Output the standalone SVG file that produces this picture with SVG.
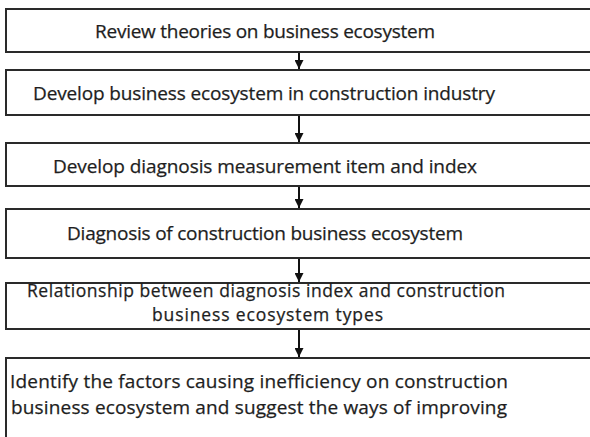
<svg xmlns="http://www.w3.org/2000/svg" width="590" height="437" viewBox="0 0 590 437">
  <defs>
    <marker id="head" viewBox="0 0 10 10" refX="10" refY="5" markerWidth="5.5" markerHeight="4.5" markerUnits="strokeWidth" orient="auto">
      <path d="M0,0 L10,5 L0,10 Z" fill="#111"/>
    </marker>
    <style>
      .box { fill: #fff; stroke: #2a2a2a; stroke-width: 2; }
      .lbl { font-family: "Open Sans", "Noto Sans", "DejaVu Sans", sans-serif; font-size: 19px; fill: #1e1e1e; stroke: #1e1e1e; stroke-width: 0.25; }
      .tight { font-size: 17.5px; }
      .edge { stroke: #111; stroke-width: 2; fill: none; marker-end: url(#head); }
    </style>
  </defs>
  <rect width="590" height="437" fill="#fff"/>

  <!-- downward flow between the steps -->
  <g id="connectors">
    <line class="edge" x1="299" y1="53" x2="299" y2="69"/>
    <line class="edge" x1="299" y1="116" x2="299" y2="142"/>
    <line class="edge" x1="299" y1="187" x2="299" y2="208"/>
    <line class="edge" x1="299" y1="259" x2="299" y2="282"/>
    <line class="edge" x1="299" y1="330" x2="299" y2="357"/>
  </g>

  <g id="step1">
    <rect class="box" x="6" y="9" width="590" height="43"/>
    <text class="lbl" x="95" y="38" textLength="340" lengthAdjust="spacing">Review theories on business ecosystem</text>
  </g>
  <g id="step2">
    <rect class="box" x="6" y="70" width="590" height="45"/>
    <text class="lbl" x="33" y="100" textLength="462" lengthAdjust="spacing">Develop business ecosystem in construction industry</text>
  </g>
  <g id="step3">
    <rect class="box" x="6" y="143" width="590" height="43"/>
    <text class="lbl" x="53" y="173" textLength="424" lengthAdjust="spacing">Develop diagnosis measurement item and index</text>
  </g>
  <g id="step4">
    <rect class="box" x="6" y="209" width="590" height="49"/>
    <text class="lbl" x="67" y="240" textLength="396" lengthAdjust="spacing">Diagnosis of construction business ecosystem</text>
  </g>
  <g id="step5">
    <rect class="box" x="6" y="283" width="590" height="46"/>
    <text class="lbl tight" x="27" y="297" textLength="478" lengthAdjust="spacing">Relationship between diagnosis index and construction</text>
    <text class="lbl tight" x="152" y="321" textLength="231" lengthAdjust="spacing">business ecosystem types</text>
  </g>
  <g id="step6">
    <rect class="box" x="6" y="358" width="590" height="90"/>
    <text class="lbl" x="10" y="388" textLength="498" lengthAdjust="spacing">Identify the factors causing inefficiency on construction</text>
    <text class="lbl" x="11" y="414" textLength="496" lengthAdjust="spacing">business ecosystem and suggest the ways of improving</text>
  </g>
</svg>
